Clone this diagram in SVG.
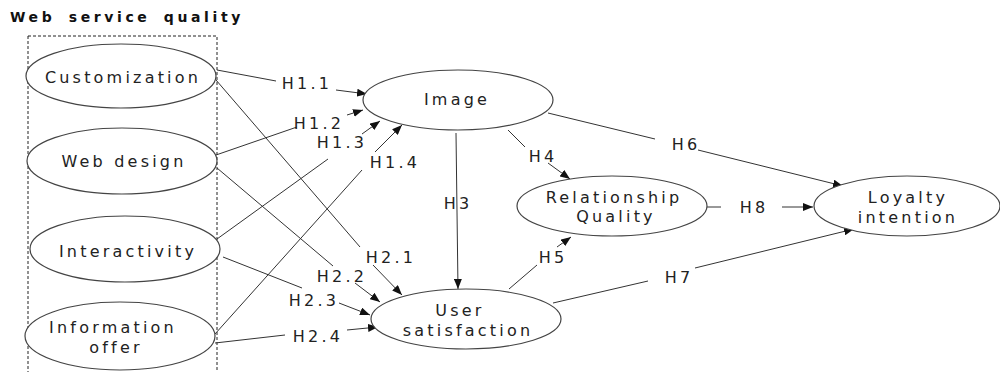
<svg xmlns="http://www.w3.org/2000/svg" width="1000" height="372" viewBox="0 0 1000 372">
<defs>
<marker id="arr" markerUnits="userSpaceOnUse" markerWidth="10" markerHeight="8" refX="10" refY="4" orient="auto">
<path d="M0,0 L10,4 L0,8 z" fill="#111"/>
</marker>
<style>
.node ellipse{fill:#fff;stroke:#444;stroke-width:1.2}
text{font-family:"DejaVu Sans","Liberation Sans",Arial,sans-serif;font-size:16px;fill:#222;letter-spacing:3.2px;text-anchor:middle}
.title{font-size:14px;font-weight:bold;text-anchor:start;letter-spacing:3.6px;word-spacing:5px;fill:#111}
#connectors line{stroke:#333;stroke-width:1}
#connectors line.a{marker-end:url(#arr)}
.box{fill:none;stroke:#222;stroke-width:1;stroke-dasharray:3,2}
</style>
</defs>
<rect width="1000" height="372" fill="#fff"/>
<text class="title" x="10" y="22">Web service quality</text>
<rect class="box" x="28" y="36" width="189" height="345"/>
<g id="connectors">
<line x1="217" y1="70" x2="276" y2="81"/><line class="a" x1="336" y1="90" x2="367" y2="94"/>
<line x1="216" y1="155" x2="297" y2="127"/><line class="a" x1="347" y1="115" x2="363" y2="110"/>
<line x1="217" y1="239" x2="328" y2="159"/><line class="a" x1="362" y1="134" x2="380" y2="121"/>
<line x1="215" y1="334" x2="362" y2="170"/><line class="a" x1="375" y1="152" x2="402" y2="125"/>
<line x1="216" y1="80" x2="360" y2="247"/><line class="a" x1="373" y1="265" x2="402" y2="295"/>
<line x1="217" y1="168" x2="333" y2="266"/><line class="a" x1="355" y1="283" x2="380" y2="302"/>
<line x1="223" y1="257" x2="302" y2="288"/><line class="a" x1="339" y1="303" x2="370" y2="315"/>
<line x1="215" y1="343" x2="285" y2="335"/><line class="a" x1="347" y1="330" x2="378" y2="327"/>
<line class="a" x1="456" y1="133" x2="458" y2="289"/>
<line x1="508" y1="130" x2="525" y2="147"/><line class="a" x1="548" y1="163" x2="570" y2="179"/>
<line x1="509" y1="289" x2="537" y2="265"/><line class="a" x1="557" y1="247" x2="571" y2="237"/>
<line x1="548" y1="113" x2="655" y2="139"/><line class="a" x1="698" y1="150" x2="843" y2="186"/>
<line x1="553" y1="303" x2="648" y2="281"/><line class="a" x1="695" y1="268" x2="854" y2="229"/>
<line x1="707" y1="207" x2="721" y2="207"/><line class="a" x1="782" y1="207" x2="813" y2="207"/>
<text x="307" y="89">H1.1</text>
<text x="319" y="129">H1.2</text>
<text x="342" y="148">H1.3</text>
<text x="395" y="168">H1.4</text>
<text x="391" y="263">H2.1</text>
<text x="342" y="282">H2.2</text>
<text x="314" y="306">H2.3</text>
<text x="318" y="342">H2.4</text>
<text x="458" y="209">H3</text>
<text x="543" y="162">H4</text>
<text x="553" y="263">H5</text>
<text x="686" y="150">H6</text>
<text x="679" y="283">H7</text>
<text x="754" y="213">H8</text>
</g>
<g id="customization" class="node"><ellipse cx="121" cy="76" rx="95" ry="32"/><text x="123" y="83">Customization</text></g>
<g id="webdesign" class="node"><ellipse cx="122" cy="161" rx="95" ry="33"/><text x="124" y="167">Web design</text></g>
<g id="interactivity" class="node"><ellipse cx="125" cy="249" rx="95" ry="33"/><text x="128" y="257">Interactivity</text></g>
<g id="information" class="node"><ellipse cx="120" cy="336" rx="95" ry="34"/><text x="113" y="333">Information</text><text x="116" y="353">offer</text></g>
<g id="image" class="node"><ellipse cx="458" cy="100" rx="95" ry="30"/><text x="457" y="105">Image</text></g>
<g id="relationship" class="node"><ellipse cx="612" cy="206" rx="95" ry="30"/><text x="614" y="203">Relationship</text><text x="616" y="222">Quality</text></g>
<g id="usersat" class="node"><ellipse cx="466" cy="319" rx="95" ry="30"/><text x="460" y="316">User</text><text x="468" y="336">satisfaction</text></g>
<g id="loyalty" class="node"><ellipse cx="907" cy="206" rx="93" ry="30"/><text x="908" y="203">Loyalty</text><text x="908" y="223">intention</text></g>
</svg>
